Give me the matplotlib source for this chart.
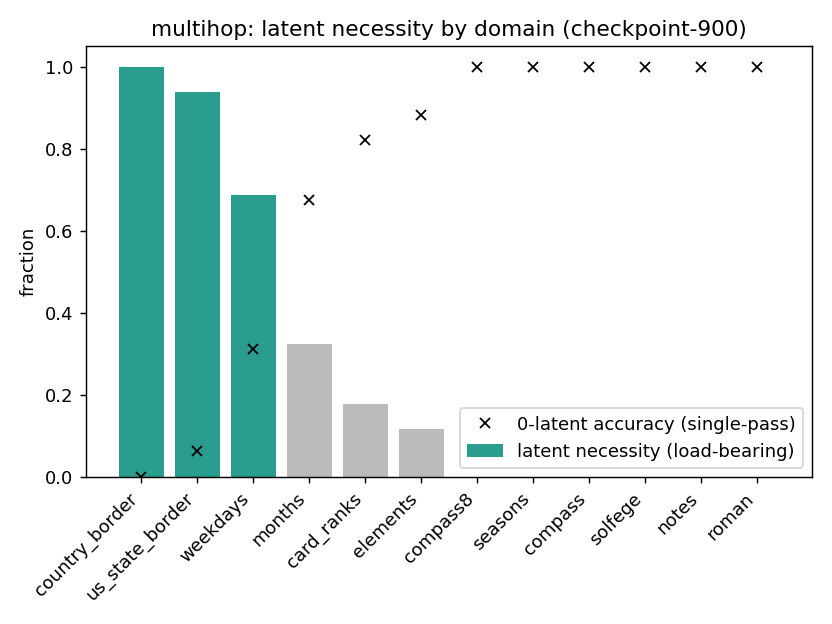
import numpy as np
import matplotlib
matplotlib.use("Agg")
import matplotlib.pyplot as plt

domains = ["country_border", "us_state_border", "weekdays", "months", "card_ranks",
           "elements", "compass8", "seasons", "compass", "solfege", "notes", "roman"]
necessity = [1.0, 0.9375, 0.6875, 0.325, 0.178, 0.117, 0, 0, 0, 0, 0, 0]
acc0 = [0.0, 0.0625, 0.3125, 0.675, 0.822, 0.883, 1.0, 1.0, 1.0, 1.0, 1.0, 1.0]
load_bearing = [True, True, True, False, False, False, False, False, False, False, False, False]

teal = "#2a9d8f"
gray = "#bbbbbb"
colors = [teal if lb else gray for lb in load_bearing]

fig, ax = plt.subplots(figsize=(6.4, 4.8), dpi=130)
x = np.arange(len(domains))
ax.bar(x, necessity, color=colors, label="latent necessity (load-bearing)")
ax.plot(x, acc0, "x", color="black", label="0-latent accuracy (single-pass)")
ax.set_xticks(x)
ax.set_xticklabels(domains, rotation=45, ha="right")
ax.set_ylabel("fraction")
ax.set_ylim(0, 1.05)
ax.set_title("multihop: latent necessity by domain (checkpoint-900)")
ax.legend(loc="lower right")
fig.tight_layout()
fig.savefig("out.png")
